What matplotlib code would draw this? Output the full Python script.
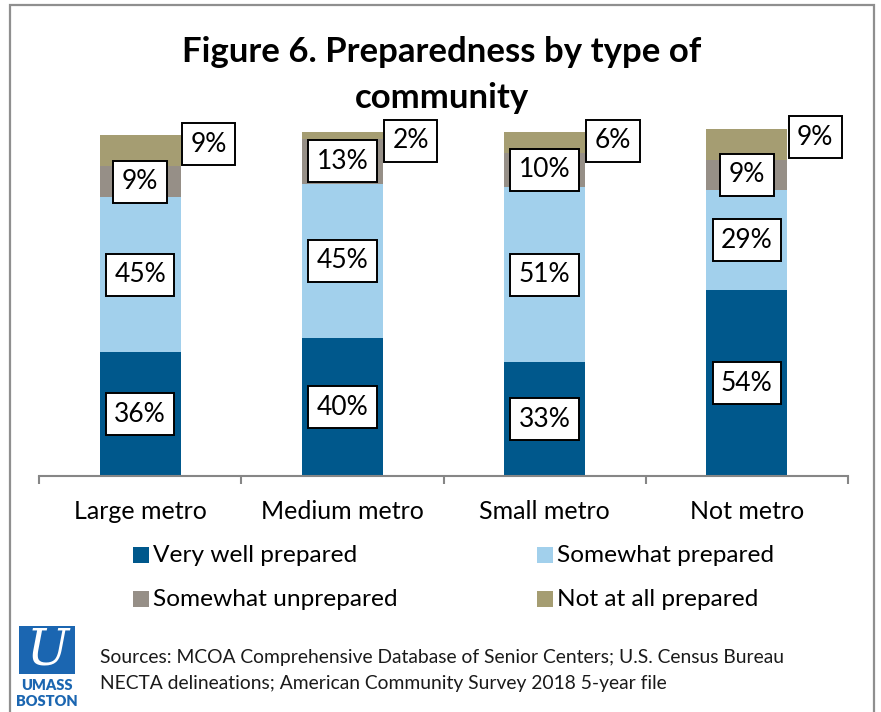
import matplotlib
matplotlib.use("Agg")
import matplotlib.pyplot as plt
from matplotlib.patches import Rectangle
import numpy as np

plt.rcParams['font.family'] = ['Lato', 'DejaVu Sans']

# Data (percent of senior centers)
categories = ["Large metro", "Medium metro", "Small metro", "Not metro"]
series_names = ["Very well prepared", "Somewhat prepared",
                "Somewhat unprepared", "Not at all prepared"]
very_well = [36, 40, 33, 54]
somewhat_prepared = [45, 45, 51, 29]
somewhat_unprepared = [9, 13, 10, 9]
not_at_all = [9, 2, 6, 9]
colors = ["#00588C", "#A2D0EC", "#968F87", "#A59D72"]

title = "Figure 6. Preparedness by type of\ncommunity"
source_lines = [
    "Sources: MCOA Comprehensive Database of Senior Centers; U.S. Census Bureau",
    "NECTA delineations; American Community Survey 2018 5-year file",
]

W, H = 881, 712
fig = plt.figure(figsize=(W / 100, H / 100), dpi=100)

def fx(px):
    return px / W

def fy(py):
    return 1 - py / H

# Outer frame
fig.patches.append(Rectangle((fx(10), fy(740)), fx(874) - fx(10), fy(5) - fy(740),
                             transform=fig.transFigure, fill=False,
                             edgecolor="#8F8F8F", linewidth=1.6))

# Plot area
ax_left, ax_right, ax_base, ax_top = 39, 848, 476, 132
ax = fig.add_axes([fx(ax_left), fy(ax_base), fx(ax_right) - fx(ax_left),
                   fy(ax_top) - fy(ax_base)])
ax.set_xlim(-0.5, len(categories) - 0.5)
ax.set_ylim(0, 1.0)

x = np.arange(len(categories))
width = 0.4
data = [very_well, somewhat_prepared, somewhat_unprepared, not_at_all]
bottom = np.zeros(len(categories))
box = dict(boxstyle="square,pad=0.32", facecolor="white", edgecolor="black", linewidth=1.4)
for k, (vals, col) in enumerate(zip(data, colors)):
    v = np.array(vals) / 100.0
    ax.bar(x, v, width, bottom=bottom, color=col, edgecolor="none", clip_on=False,
           label=series_names[k])
    for i in range(len(categories)):
        if k < 3:
            lx, ly = x[i], bottom[i] + v[i] / 2
        else:
            lx, ly = x[i] + width / 2 + 0.138, bottom[i] + v[i] - 0.025
        ax.text(lx, ly, f"{vals[i]}%", ha="center", va="center", fontsize=19,
                color="black", bbox=box, zorder=5, clip_on=False)
    bottom = bottom + v

for s in ["top", "right", "left"]:
    ax.spines[s].set_visible(False)
ax.spines["bottom"].set_color("#868686")
ax.spines["bottom"].set_linewidth(1.5)
ax.set_yticks([])
ax.set_xticks(np.arange(-0.5, len(categories)), labels=[""] * (len(categories) + 1))
ax.tick_params(axis="x", which="major", direction="out", length=6, width=1.5,
               color="#868686")
ax.set_xticks(x, labels=categories, minor=True)
ax.tick_params(axis="x", which="minor", length=0, pad=17, labelsize=18,
               labelcolor="black")

# Title
fig.text(fx(442), fy(75), title, ha="center", va="center", fontsize=25,
         fontweight="bold", linespacing=1.5, color="black")

# Legend
legend_pos = [(133, 555), (537, 555), (133, 599), (537, 599)]
for (lx, ly), name, col in zip(legend_pos, series_names, colors):
    fig.patches.append(Rectangle((fx(lx), fy(ly + 8)), fx(16), 16 / H,
                                 transform=fig.transFigure, facecolor=col,
                                 edgecolor="none"))
    fig.text(fx(lx + 20), fy(ly), name, ha="left", va="center", fontsize=17.6,
             color="black")

# Sources
for j, line in enumerate(source_lines):
    fig.text(fx(100), fy(657 + 26 * j), line, ha="left", va="center",
             fontsize=13.9, color="#1a1a1a")

# University logo
logo_blue = "#1B66B1"
fig.patches.append(Rectangle((fx(19), fy(674)), fx(56), 48 / H,
                             transform=fig.transFigure, facecolor=logo_blue,
                             edgecolor="none"))
fig.text(fx(47), fy(651), "U", ha="center", va="center", fontsize=36,
         family="DejaVu Serif", style="italic", color="white")
fig.text(fx(47), fy(685), "UMASS", ha="center", va="center", fontsize=10.5,
         fontweight="heavy", color=logo_blue)
fig.text(fx(47), fy(701), "BOSTON", ha="center", va="center", fontsize=10.5,
         fontweight="heavy", color=logo_blue)

fig.savefig("out.png", dpi=100)
